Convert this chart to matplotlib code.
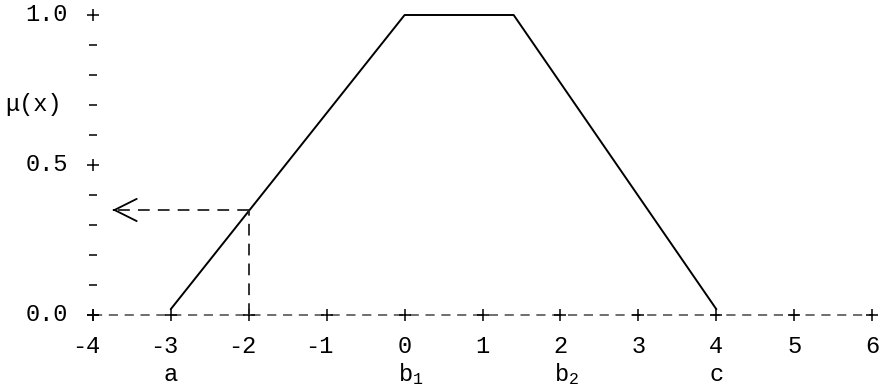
import matplotlib
matplotlib.use("Agg")
import matplotlib.pyplot as plt

plt.rcParams["font.family"] = ["Liberation Mono", "DejaVu Sans"]
plt.rcParams["mathtext.fontset"] = "custom"
plt.rcParams["mathtext.rm"] = "Liberation Mono"

# membership function (trapezoid)
trap_x = [-3, 0, 1.4, 4]
trap_y = [0.02, 1.0, 1.0, 0.02]

# example input and its membership value
x_in = -2
mu_in = 0.35
arrow_end = -3.75

# axis ticks
x_ticks = [-4, -3, -2, -1, 0, 1, 2, 3, 4, 5, 6]
y_major = [0.0, 0.5, 1.0]
y_major_labels = ["0.0", "0.5", "1.0"]
y_minor = [0.1, 0.2, 0.3, 0.4, 0.6, 0.7, 0.8, 0.9]

# parameter names under the x axis
param_x = [-3, 0, 2, 4]
param_labels = ["a", r"$\mathregular{b_1}$", r"$\mathregular{b_2}$", "c"]

fs = 17

fig = plt.figure(figsize=(8.85, 3.86), dpi=100)
ax = fig.add_axes([0, 0, 1, 1])
ax.set_xlim(-5.194, 6.167)
ax.set_ylim(-0.2367, 1.05)
ax.axis("off")

dash = (0, (5.5, 4.0))

# dashed x axis with + ticks
ax.plot([x_ticks[0], x_ticks[-1]], [0, 0], color="#555555", lw=1.2, linestyle=dash)
ax.plot(x_ticks, [0] * len(x_ticks), "+", color="black", ms=8.5, mew=1.1)

# y axis marks
ax.plot([-4] * len(y_major), y_major, "+", color="black", ms=8.5, mew=1.1)
ax.plot([-4] * len(y_minor), y_minor, "_", color="black", ms=5.5, mew=1.1)

# trapezoid
ax.plot(trap_x, trap_y, color="black", lw=1.4)

# projection from input to membership value
ax.plot([x_in, x_in], [0, mu_in], color="#222222", lw=1.3, linestyle=(0, (6.5, 4.5)))
ax.plot([x_in, arrow_end], [mu_in, mu_in], color="#222222", lw=1.3, linestyle=(0, (6.5, 4.5)))
ax.annotate("", xy=(arrow_end, mu_in), xytext=(arrow_end + 0.02, mu_in),
            arrowprops=dict(arrowstyle="->,head_length=1.6,head_width=0.8",
                            color="black", lw=1.3, shrinkA=0, shrinkB=0))

# tick labels
for xv in x_ticks:
    off = -7 if xv < 0 else 0
    ax.annotate(str(xv), xy=(xv, 0), xytext=(off, -38), textcoords="offset pixels",
                ha="center", va="baseline", fontsize=fs)

for yv, lab in zip(y_major, y_major_labels):
    ax.annotate(lab, xy=(-4, yv), xytext=(-25, 0), textcoords="offset pixels",
                ha="right", va="center", fontsize=fs)

ax.annotate("\u03bc(x)", xy=(-4, 0.7), xytext=(-31, 0), textcoords="offset pixels",
            ha="right", va="center", fontsize=fs)

for xv, lab in zip(param_x, param_labels):
    ax.annotate(lab, xy=(xv, 0), xytext=(6 if "b" in lab else 0, -66),
                textcoords="offset pixels", ha="center", va="baseline", fontsize=fs)

fig.savefig("out.png", dpi=100)
